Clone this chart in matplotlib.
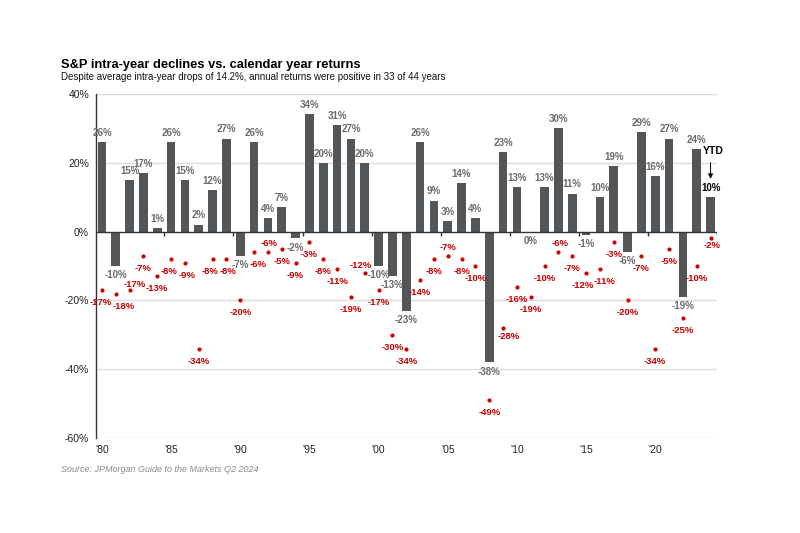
import numpy as np
import matplotlib
matplotlib.use("Agg")
import matplotlib.pyplot as plt

plt.rcParams['font.family'] = ['Liberation Sans', 'DejaVu Sans']

# S&P 500 calendar year returns and intra-year declines, 1980-2024 (2024 = YTD)
years = np.arange(1980, 2025)
annual_returns = [26, -10, 15, 17, 1, 26, 15, 2, 12, 27,
                  -7, 26, 4, 7, -2, 34, 20, 31, 27, 20,
                  -10, -13, -23, 26, 9, 3, 14, 4, -38, 23,
                  13, 0, 13, 30, 11, -1, 10, 19, -6, 29,
                  16, 27, -19, 24, 10]
intra_year_drops = [-17, -18, -17, -7, -13, -8, -9, -34, -8, -8,
                    -20, -6, -6, -5, -9, -3, -8, -11, -19, -12,
                    -17, -30, -34, -14, -8, -7, -8, -10, -49, -28,
                    -16, -19, -10, -6, -7, -12, -11, -3, -20, -7,
                    -34, -5, -25, -10, -2]
yticks = [40, 20, 0, -20, -40, -60]
xtick_years = [1980, 1985, 1990, 1995, 2000, 2005, 2010, 2015, 2020]
xtick_labels = ["'80", "'85", "'90", "'95", "'00", "'05", "'10", "'15", "'20"]

# where a red label sits relative to its dot (points), default is just below
drop_label_offsets = {1980: (-1, -9), 1981: (6, -9), 1982: (4, 4), 1985: (-1.5, -9),
                      1986: (1.5, -9), 1988: (-2, -9), 1989: (1, -9), 1991: (3, -9),
                      1992: (1, 6), 1999: (-3, 5), 2005: (0, 6), 2009: (4, -6),
                      2013: (1, 6), 2015: (-2, -9), 2016: (3, -9), 2024: (1, -5)}

bar_col = '#525659'
red = '#cc0000'

fig = plt.figure(figsize=(8, 5.33), dpi=100)
ax = fig.add_axes([0.12, 0.178, 0.776, 0.646])

ax.bar(years, annual_returns, width=0.62, color=bar_col, zorder=3)
ax.scatter(years, intra_year_drops, s=9, color=red, zorder=4, linewidths=0)

# bar labels
for yr, v in zip(years, annual_returns):
    col = 'black' if yr == 2024 else '#6a6a6a'
    if v > 0:
        ax.annotate(f'{v}%', (yr, v), xytext=(0, 3), textcoords='offset points',
                    ha='center', va='bottom', fontsize=7, fontweight='bold', color=col)
    else:
        ax.annotate(f'{v}%', (yr, v), xytext=(0, -3), textcoords='offset points',
                    ha='center', va='top', fontsize=7, fontweight='bold', color=col)

# drop labels
for yr, v in zip(years, intra_year_drops):
    off = drop_label_offsets.get(yr, (0, -9))
    ax.annotate(f'{v}%', (yr, v), xytext=off, textcoords='offset points',
                ha='center', va='center', fontsize=6.8, fontweight='bold', color=red)

# YTD marker
ax.annotate('YTD', (2024, 23.5), xytext=(2, 0), textcoords='offset points',
            ha='center', va='center', fontsize=7.5, fontweight='bold', color='black')
ax.annotate('', xy=(2024, 14.5), xytext=(2024, 20.8),
            arrowprops=dict(arrowstyle='-|>', color='black', lw=0.7, mutation_scale=7))

ax.set_xlim(1979.57, 2024.45)
ax.set_ylim(-60, 40)

for s in ['top', 'right', 'bottom']:
    ax.spines[s].set_visible(False)
ax.spines['left'].set_color('#333333')
ax.spines['left'].set_linewidth(1.0)

for g in [40, 20, -20, -40, -60]:
    ax.axhline(g, color='#dddddd', lw=1.0, zorder=1)
ax.axhline(0, color='#333333', lw=1.0, zorder=5)
ax.vlines(np.array(xtick_years[1:] + [2025]) - 0.5, -1.3, 0, color='#333333', lw=1.0, zorder=5)

ax.set_yticks(yticks)
ax.set_yticklabels([f'{t}%' for t in yticks], fontsize=7.5, color='#222222')
ax.set_xticks(xtick_years)
ax.set_xticklabels(xtick_labels, fontsize=7.5, color='#222222')
ax.tick_params(length=0, pad=5)

fig.text(0.076, 0.872, 'S&P intra-year declines vs. calendar year returns',
         fontsize=9.3, fontweight='bold', color='black')
fig.text(0.076, 0.849, 'Despite average intra-year drops of 14.2%, annual returns were positive in 33 of 44 years',
         fontsize=7.0, color='#111111')
fig.text(0.076, 0.115, 'Source: JPMorgan Guide to the Markets Q2 2024',
         fontsize=6.5, style='italic', color='#8a8a8a')

fig.savefig('out.png', dpi=100)
